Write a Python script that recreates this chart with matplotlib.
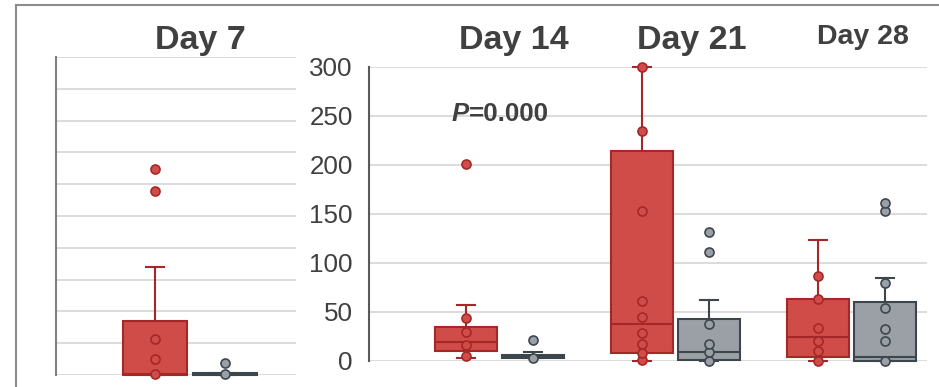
import matplotlib
matplotlib.use('Agg')
import matplotlib.pyplot as plt
from matplotlib.lines import Line2D

plt.rcParams['font.family'] = ['Liberation Sans', 'DejaVu Sans']

# Day 7 panel (own scale, no tick labels)
d7_red_stats = [0.0, 0.3, 17.1, 0.0, 34.1]   # q1, median, q3, whisker low, whisker high
d7_red_pts = [0.3, 5.1, 11.3, 57.9, 64.7]
d7_gray_stats = [0.0, 0.3, 0.6, 0.0, 0.6]
d7_gray_pts = [0.3, 3.7]

# Day 14 / 21 / 28 panel
days = ['Day 14', 'Day 21', 'Day 28']
red_q1 = [10.2, 8.5, 3.8]
red_med = [19.4, 37.4, 24.2]
red_q3 = [35.0, 214.4, 62.9]
red_lo = [3.4, 0.0, 0.0]
red_hi = [57.0, 300.0, 123.3]
red_pts = [[5.1, 16.6, 29.3, 43.5, 200.5],
           [1.0, 8.5, 17.0, 28.9, 44.5, 61.2, 153.2, 234.5, 300.0],
           [0.0, 10.2, 20.7, 33.3, 62.9, 86.3]]

gray_q1 = [3.0, 1.0, 0.3]
gray_med = [4.5, 9.5, 4.4]
gray_q3 = [6.5, 42.5, 60.1]
gray_lo = [3.0, 0.0, 0.0]
gray_hi = [8.9, 62.5, 85.0]
gray_pts = [[3.4, 21.0],
            [0.3, 8.9, 17.0, 37.7, 110.8, 131.8],
            [0.0, 20.7, 33.0, 53.7, 79.8, 153.2, 160.7]]

RED_FILL, RED_EDGE = '#D04C48', '#A52828'
GRAY_FILL, GRAY_EDGE = '#9AA0A6', '#3E464D'
GRID = '#d9d9d9'
TXT = '#404040'


def draw_box(ax, pos, q1, med, q3, lo, hi, pts, fill, edge, width):
    stats = [{'q1': q1, 'med': med, 'q3': q3, 'whislo': lo, 'whishi': hi, 'fliers': []}]
    art = ax.bxp(stats, positions=[pos], widths=width, capwidths=0.1,
                 patch_artist=True, showfliers=False, manage_ticks=False,
                 boxprops=dict(facecolor=fill, edgecolor=edge, linewidth=1.5),
                 medianprops=dict(color=edge, linewidth=1.5),
                 whiskerprops=dict(color=edge, linewidth=1.5),
                 capprops=dict(color=edge, linewidth=1.5))
    for group in art.values():
        for a in group:
            a.set_clip_on(False)
    ax.plot([pos] * len(pts), pts, 'o', ms=6.5, mfc=fill, mec=edge, mew=1.2,
            clip_on=False, zorder=5)


fig = plt.figure(figsize=(9.39, 3.87), dpi=100)

# left panel
ax1 = fig.add_axes([56 / 939, 12 / 387, 240 / 939, 318 / 387])
ax1.set_xlim(-0.766, 0.606)
ax1.set_ylim(0, 100)
ax1.set_yticks(range(0, 101, 10))
ax1.set_yticklabels([])
ax1.tick_params(length=0)
ax1.set_xticks([])
ax1.grid(axis='y', color=GRID, linewidth=1.3)
ax1.set_axisbelow(True)
for s in ['top', 'right', 'bottom']:
    ax1.spines[s].set_visible(False)
ax1.spines['left'].set_color('#808080')
ax1.spines['left'].set_linewidth(1.5)
draw_box(ax1, -0.2, *d7_red_stats, d7_red_pts, RED_FILL, RED_EDGE, 0.371)
draw_box(ax1, 0.2, *d7_gray_stats, d7_gray_pts, GRAY_FILL, GRAY_EDGE, 0.371)

# right panel
ax2 = fig.add_axes([369.3 / 939, 26 / 387, 557.4 / 939, 294.3 / 387])
ax2.patch.set_alpha(0)
ax2.set_xlim(-0.741, 2.426)
ax2.set_ylim(0, 300)
ax2.set_yticks(range(0, 301, 50))
ax2.tick_params(axis='y', length=0, pad=12, labelsize=18.7, labelcolor=TXT)
ax2.set_xticks([])
ax2.grid(axis='y', color=GRID, linewidth=1.3)
ax2.set_axisbelow(True)
for s in ['top', 'right', 'bottom']:
    ax2.spines[s].set_visible(False)
ax2.spines['left'].set_color('#595959')
ax2.spines['left'].set_linewidth(1.5)
for i in range(len(days)):
    draw_box(ax2, i - 0.19, red_q1[i], red_med[i], red_q3[i], red_lo[i], red_hi[i],
             red_pts[i], RED_FILL, RED_EDGE, 0.35)
    draw_box(ax2, i + 0.19, gray_q1[i], gray_med[i], gray_q3[i], gray_lo[i], gray_hi[i],
             gray_pts[i], GRAY_FILL, GRAY_EDGE, 0.35)

# titles
def px(x, y):
    return x / 939, 1 - y / 387

fig.text(*px(200, 48.5), 'Day 7', ha='center', va='baseline', fontsize=24.5,
         fontweight='bold', color=TXT)
fig.text(*px(513.5, 49.5), days[0], ha='center', va='baseline', fontsize=24.5,
         fontweight='bold', color=TXT)
fig.text(*px(692, 49.5), days[1], ha='center', va='baseline', fontsize=24.5,
         fontweight='bold', color=TXT)
fig.text(*px(863, 43.5), days[2], ha='center', va='baseline', fontsize=20.5,
         fontweight='bold', color=TXT)
fig.text(*px(469, 120.7), 'P', ha='right', va='baseline', fontsize=18.6,
         fontweight='bold', fontstyle='italic', color=TXT)
fig.text(*px(469, 120.7), '=0.000', ha='left', va='baseline', fontsize=18.6,
         fontweight='bold', color=TXT)

# outer frame
fig.add_artist(Line2D([16 / 939, 16 / 939], [0, 1 - 5 / 387], color='#8c8c8c', lw=1.5))
fig.add_artist(Line2D([16 / 939, 1], [1 - 5 / 387, 1 - 5 / 387], color='#8c8c8c', lw=1.5))

fig.savefig('out.png', dpi=100)
